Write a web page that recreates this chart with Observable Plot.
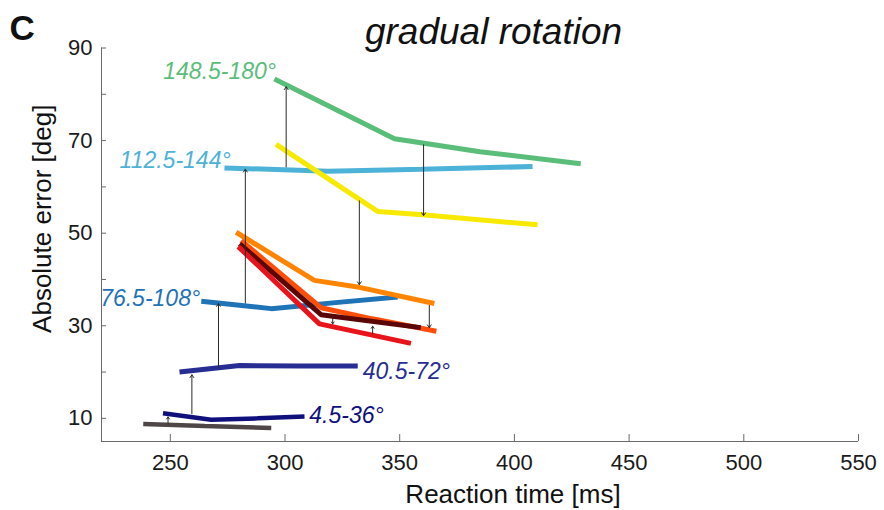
<!DOCTYPE html>
<html><head><meta charset="utf-8">
<script src="https://cdn.jsdelivr.net/npm/d3@7"></script>
<script src="https://cdn.jsdelivr.net/npm/@observablehq/plot@0.6"></script>
<style>body{margin:0;background:#fff;} #chart{width:884px;height:510px;}</style>
</head><body><div id="chart"></div>
<script>
// ---- axes ----
const xTicks = [250, 300, 350, 400, 450, 500, 550];
const yTicks = [10, 20, 30, 40, 50, 60, 70, 80, 90];
const yTickLabels = [10, 30, 50, 70, 90];
const xDomain = [220, 550];
const yDomain = [5, 90];
const title = "gradual rotation";
const panel = "C";
const xLabel = "Reaction time [ms]";
const yLabel = "Absolute error [deg]";

// ---- series (reaction time [ms], absolute error [deg]) ----
const seriesNames = ["gray", "4.5-36°", "40.5-72°", "76.5-108°", "112.5-144°", "148.5-180°",
                     "yellow", "orange", "orangeRed", "darkRed", "red"];
const seriesColors = ["#4f4747", "#10107c", "#272d92", "#1f73b7", "#4db2d8", "#5bbd7a",
                      "#f7ea00", "#ff8400", "#ff4e0a", "#5a0606", "#e8141c"];
const rtGray = [238.2, 265, 294];            const errGray = [8.8, 8.35, 7.9];
const rt4 = [246.8, 267.8, 288, 308.5];      const err4 = [11.1, 9.7, 10.0, 10.4];
const rt40 = [254, 280.2, 306.4, 331.7];     const err40 = [20.0, 21.4, 21.3, 21.3];
const rt76 = [263.5, 294, 322, 349.1];       const err76 = [35.3, 33.7, 35.0, 36.2];
const rt112 = [273.6, 318.8, 359.3, 407.9];  const err112 = [64.1, 63.4, 63.8, 64.4];
const rt148 = [295.4, 347.7, 385, 428.9];    const err148 = [83.3, 70.4, 67.6, 65.0];
const rtYellow = [296.1, 340.4, 360, 410.1]; const errYellow = [69.2, 54.7, 54.0, 51.8];
const rtOrange = [278.7, 312.8, 332.4, 365.1]; const errOrange = [50.2, 39.8, 38.3, 34.8];
const rtOrangeRed = [280.9, 315.7, 338, 366]; const errOrangeRed = [48.4, 33.9, 31.5, 28.8];
const rtDarkRed = [280.2, 315.7, 359.2];     const errDarkRed = [47.7, 32.4, 29.6];
const rtRed = [279.6, 315, 354.9];           const errRed = [47.1, 30.4, 26.2];
const seriesRT = [rtGray, rt4, rt40, rt76, rt112, rt148, rtYellow, rtOrange, rtOrangeRed, rtDarkRed, rtRed];
const seriesErr = [errGray, err4, err40, err76, err112, err148, errYellow, errOrange, errOrangeRed, errDarkRed, errRed];

// ---- arrows between conditions ----
const arrowRT =   [300.5, 282.7, 271, 259.4, 249, 360.4, 332.4, 362.9, 320.8, 338.2];
const arrowFrom = [64.3, 34.9, 20.9, 11.0, 8.7, 69.1, 57.0, 34.4, 31.9, 28.3];
const arrowTo =   [81.6, 63.8, 34.8, 19.4, 10.3, 53.8, 38.9, 29.6, 30.4, 29.9];

// ---- bin labels ----
const labelsLeft = ["148.5-180°", "112.5-144°", "76.5-108°"];
const labelsLeftRT = [296.1, 276.3, 263.0];
const labelsLeftErr = [83.4, 64.0, 34.2];
const labelsRight = ["40.5-72°", "4.5-36°"];
const labelsRightRT = [333.9, 310.6];
const labelsRightErr = [18.6, 8.9];

const colorOf = name => seriesColors[seriesNames.indexOf(name)];

const rows = [];
seriesNames.forEach((s, k) => seriesRT[k].forEach((x, i) => rows.push({series: s, rt: x, err: seriesErr[k][i]})));

const axisColor = "#6a6a6a";
const marks = [
  Plot.ruleX([xDomain[0]], {stroke: axisColor, strokeWidth: 1}),
  Plot.ruleY([yDomain[0]], {stroke: axisColor, strokeWidth: 1}),
  Plot.ruleY(yTicks, {y: d => d, x1: xDomain[0], x2: xDomain[0] + 2.2, stroke: axisColor}),
  Plot.ruleX(xTicks, {x: d => d, y1: yDomain[0], y2: yDomain[0] + 1.5, stroke: axisColor}),
  Plot.axisX({ticks: xTicks, tickSize: 0, tickPadding: 13, fontSize: 22, label: null, fill: "#1a1a1a"}),
  Plot.axisY({ticks: yTickLabels, tickSize: 0, tickPadding: 9, fontSize: 22, label: null, fill: "#1a1a1a"}),
  Plot.text([xLabel], {text: d => d, frameAnchor: "bottom", textAnchor: "middle", dx: 33, dy: 61, lineAnchor: "bottom", fontSize: 26, fill: "#111"}),
  Plot.text([yLabel], {text: d => d, frameAnchor: "left", textAnchor: "middle", rotate: -90, dx: -59, dy: -26, lineAnchor: "middle", fontSize: 26, fill: "#111"}),
  Plot.text([title], {text: d => d, frameAnchor: "top", textAnchor: "middle", dx: 13.5, dy: -4.5, lineAnchor: "bottom", fontSize: 37, fontStyle: "italic", fill: "#111"}),
  Plot.text([panel], {text: d => d, frameAnchor: "top-left", textAnchor: "start", dx: -92, dy: -8, lineAnchor: "bottom", fontSize: 35, fontWeight: "bold", fill: "#111"})
];

// lines in drawing order
seriesNames.forEach((s, k) => {
  marks.push(Plot.line(rows.filter(r => r.series === s), {
    x: "rt", y: "err", stroke: seriesColors[k],
    strokeWidth: s === "gray" || s === "4.5-36°" ? 4.5 : 5,
    strokeLinejoin: "miter", strokeLinecap: "butt"
  }));
});

marks.push(Plot.arrow(d3.range(arrowRT.length), {
  x1: i => arrowRT[i], x2: i => arrowRT[i], y1: i => arrowFrom[i], y2: i => arrowTo[i],
  stroke: "#2a2a2a", strokeWidth: 1, headLength: 5, headAngle: 70, insetStart: 0, insetEnd: 0
}));

labelsLeft.forEach((t, i) => marks.push(Plot.text([t], {
  text: d => d, x: () => labelsLeftRT[i], y: () => labelsLeftErr[i], textAnchor: "end", lineAnchor: "bottom",
  fontSize: 23, fontStyle: "italic", fill: colorOf(t)
})));
labelsRight.forEach((t, i) => marks.push(Plot.text([t], {
  text: d => d, x: () => labelsRightRT[i], y: () => labelsRightErr[i], textAnchor: "start", lineAnchor: "bottom",
  fontSize: 23, fontStyle: "italic", fill: colorOf(t)
})));

const chart = Plot.plot({
  width: 884, height: 510,
  marginLeft: 101, marginRight: 26, marginTop: 47.5, marginBottom: 69,
  x: {domain: xDomain},
  y: {domain: yDomain},
  style: {fontFamily: "'Liberation Sans', Arial, sans-serif", background: "#fff", overflow: "visible"},
  marks
});
document.getElementById("chart").appendChild(chart);
</script>
</body></html>
